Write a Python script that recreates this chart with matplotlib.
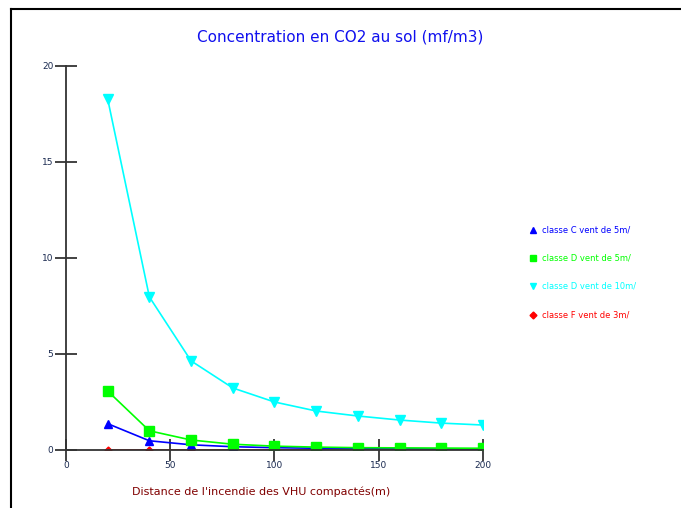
import matplotlib.pyplot as plt
from matplotlib.lines import Line2D

# ---- DATA ----
dist = [20, 40, 60, 80, 100, 120, 140, 160, 180, 200]
classe_c_5 = [1.37, 0.48, 0.27, 0.17, 0.12, 0.09, 0.08, 0.07, 0.06, 0.05]
classe_d_5 = [3.07, 1.00, 0.52, 0.30, 0.20, 0.15, 0.12, 0.11, 0.10, 0.09]
classe_d_10 = [18.28, 7.97, 4.64, 3.23, 2.50, 2.03, 1.77, 1.56, 1.40, 1.30]
classe_f_3 = [0.01, 0.01, 0.01, 0.01, 0.01, 0.01, 0.01, 0.01, 0.01, 0.01]

labels = ['classe C vent de 5m/', 'classe D vent de 5m/',
          'classe D vent de 10m/', 'classe F vent de 3m/']
colors = ['#0000ff', '#00ff00', '#00ffff', '#ff0000']
markers = ['^', 's', 'v', 'D']
xticks = [0, 50, 100, 150, 200]
yticks = [0, 5, 10, 15, 20]

# ---- FIGURE ----
fig = plt.figure(figsize=(6.81, 5.08), dpi=100)
ax = fig.add_axes([0.0969, 0.1142, 0.6123, 0.7559])

ax.plot(dist, classe_c_5, color=colors[0], marker=markers[0], markersize=6, linewidth=1.2, zorder=3)
ax.plot(dist, classe_d_5, color=colors[1], marker=markers[1], markersize=7, linewidth=1.2, zorder=4)
ax.plot(dist, classe_d_10, color=colors[2], marker=markers[2], markersize=7, linewidth=1.2, zorder=4)
ax.plot(dist, classe_f_3, color=colors[3], marker=markers[3], markersize=3.5, linewidth=1.2, zorder=2)

ax.set_xlim(0, 200)
ax.set_ylim(0, 20)
ax.set_xticks(xticks)
ax.set_yticks(yticks)
ax.tick_params(direction='inout', length=16, width=1.2, color='#222222',
               labelsize=6.5, labelcolor='#1a2a50')
ax.tick_params(axis='x', pad=0)
ax.tick_params(axis='y', pad=1)
for side in ['top', 'right']:
    ax.spines[side].set_visible(False)
for side in ['left', 'bottom']:
    ax.spines[side].set_color('#333333')
    ax.spines[side].set_linewidth(1.3)
    ax.spines[side].set_zorder(5)

fig.text(261 / 681, 1 - 492 / 508, "Distance de l'incendie des VHU compactés(m)",
         fontsize=8, color='#800000', ha='center', va='center')
fig.text(0.5, 0.927, 'Concentration en CO2 au sol (mf/m3)', ha='center', va='center',
         fontsize=11, color='#1010ee')

# legend on the right, markers + coloured text
legend_y = [230, 258, 286, 315]
for lab, col, mk, ly in zip(labels, colors, markers, legend_y):
    yf = 1 - ly / 508
    ms = 3.5 if mk == 'D' else 5
    fig.add_artist(Line2D([533 / 681], [yf], marker=mk, color=col, markersize=ms, linestyle='none'))
    fig.text(542 / 681, yf, lab, fontsize=6, color=col, va='center', ha='left')

# frame (top and left only)
fig.add_artist(Line2D([11 / 681, 1], [1 - 9 / 508, 1 - 9 / 508], color='black', linewidth=1.5))
fig.add_artist(Line2D([11 / 681, 11 / 681], [0, 1 - 9 / 508], color='black', linewidth=1.5))

plt.savefig('out.png', dpi=100)
